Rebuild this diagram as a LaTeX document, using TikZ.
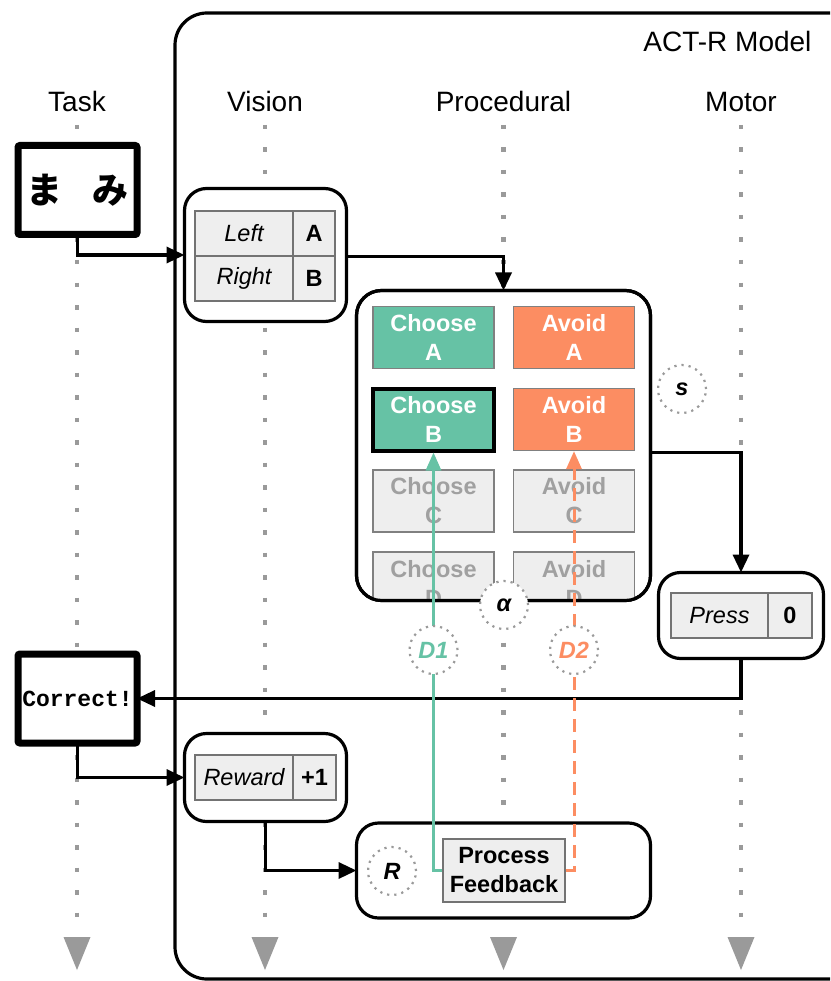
\documentclass[tikz,border=0pt]{standalone}
\usepackage{fontspec}
\setmainfont{Liberation Sans}
\setsansfont{Liberation Sans}
\setmonofont{Liberation Mono}
\newfontfamily\jpfont{Noto Sans CJK JP}
\usetikzlibrary{arrows.meta,calc}

\definecolor{setgreen}{HTML}{66C2A5}
\definecolor{setorange}{HTML}{FC8D62}
\definecolor{cellfill}{HTML}{EEEEEE}
\definecolor{lanegray}{HTML}{9A9A9A}
\definecolor{idletext}{HTML}{A0A0A0}

\newcommand\lanesize{\fontsize{28}{32}\selectfont}
\newcommand\cellsize{\fontsize{23.5}{29}\selectfont}

\tikzset{
  module/.style={draw, line width=3.2pt, fill=white, rounded corners=22pt,
    inner sep=0pt, outer sep=0pt},
  taskbox/.style={draw, line width=7pt, fill=white, rounded corners=2pt,
    inner sep=0pt, outer sep=0pt, minimum width=119pt, minimum height=89pt},
  slot/.style={draw=black!55, line width=1.3pt, fill=cellfill, inner sep=0pt,
    minimum height=45pt, font=\cellsize},
  prodcell/.style={draw=black!50, line width=1.3pt, inner sep=0pt,
    minimum width=121pt, minimum height=62pt, align=center,
    font=\cellsize\bfseries, text=white},
  choosecell/.style={prodcell, fill=setgreen},
  avoidcell/.style={prodcell, fill=setorange},
  idlecell/.style={prodcell, fill=cellfill, text=idletext},
  param/.style={circle, draw=lanegray, line width=2.2pt,
    dash pattern=on 2.2pt off 5pt, fill=white, minimum size=48pt,
    inner sep=0pt, font=\cellsize\bfseries\itshape},
  lane/.style={lanegray, line width=4.5pt, dash pattern=on 4.5pt off 18pt},
  lanetitle/.style={anchor=base, font=\lanesize},
  link/.style={line width=3.4pt, -{Triangle[length=18pt,width=16pt]}},
  signal/.style={line width=3pt, -{Triangle[length=18pt,width=15pt]}},
}

\begin{document}
\begin{tikzpicture}[x=1pt,y=-1pt]
\useasboundingbox (0,0) rectangle (830,981);
\clip (0,0) rectangle (830,981);

% ACT-R model frame
\node[draw, line width=3.2pt, rounded corners=32pt, inner sep=0pt, outer sep=0pt,
  minimum width=690pt, minimum height=966pt, anchor=north west] (model) at (175,13) {};
\node[anchor=base east, font=\lanesize] (modeltitle) at (815,52) {ACT-R Model};

% swim lanes
\foreach \name/\x/\label in {task/77/Task, vision/265/Vision, proc/503.5/Procedural, motor/741/Motor}{
  \node[lanetitle] (\name title) at (\x,112) {\label};
  \coordinate (\name top) at (\x,125);
  \coordinate (\name end) at (\x,934);
  \draw[lane] (\name top) -- (\name end);
  \fill[lanegray] ($(\name end)+(-13.5,3)$) -- ($(\name end)+(13.5,3)$) -- ($(\name end)+(0,36)$) -- cycle;
}

% task screens
\node[taskbox] (stim) at (77.5,190) {\fontsize{36}{40}\selectfont\jpfont\bfseries ま\hspace{30pt}み};
\node[taskbox] (correct) at (77.5,698.5) {\fontsize{23}{26}\selectfont\ttfamily\bfseries Correct!};

% vision: stimulus encoding
\node[module, minimum width=162pt, minimum height=133pt] (vis) at (265.5,255) {};
\node[slot, minimum width=98pt, font=\cellsize\itshape] (vleft) at (244,233.5) {Left};
\node[slot, minimum width=42pt, font=\cellsize\bfseries] (va) at (314,233.5) {A};
\node[slot, minimum width=98pt, font=\cellsize\itshape] (vright) at (244,278.5) {Right};
\node[slot, minimum width=42pt, font=\cellsize\bfseries] (vb) at (314,278.5) {B};

% vision: feedback encoding
\node[module, minimum width=162pt, minimum height=88pt] (rew) at (265.5,777.5) {};
\node[slot, minimum width=98pt, font=\cellsize\itshape] (rlabel) at (244,777.5) {Reward};
\node[slot, minimum width=43pt, font=\cellsize\bfseries] (rval) at (314.5,777.5) {+1};

% motor
\node[module, minimum width=165pt, minimum height=86pt] (mot) at (741,615.5) {};
\node[slot, minimum width=97pt, font=\cellsize\itshape] (mpress) at (719.5,615.5) {Press};
\node[slot, minimum width=44pt, font=\cellsize\bfseries] (mzero) at (790,615.5) {0};

% procedural: productions
\node[module, rounded corners=25pt, minimum width=294pt, minimum height=310pt] (pm) at (503.5,445.5) {};
\begin{scope}
  \clip[rounded corners=25pt] (pm.south west) rectangle (pm.north east);
  \node[choosecell] (cA) at (433.5,337.5) {Choose\\A};
  \node[avoidcell]  (aA) at (574,337.5) {Avoid\\A};
  \node[choosecell, draw=black, line width=4pt] (cB) at (433.5,419.5) {Choose\\B};
  \node[avoidcell]  (aB) at (574,419.5) {Avoid\\B};
  \node[idlecell]   (cC) at (433.5,501) {Choose\\C};
  \node[idlecell]   (aC) at (574,501) {Avoid\\C};
  \node[idlecell]   (cD) at (433.5,583) {Choose\\D};
  \node[idlecell]   (aD) at (574,583) {Avoid\\D};
\end{scope}
\draw[line width=3.2pt, rounded corners=25pt] (pm.south west) rectangle (pm.north east);

% procedural: feedback processing
\node[module, minimum width=294pt, minimum height=95pt] (fb) at (503.5,870.5) {};
\node[draw=black!55, line width=1.3pt, fill=cellfill, inner sep=0pt,
  minimum width=122pt, minimum height=63pt, align=center,
  font=\cellsize\bfseries] (pf) at (504,870.5) {Process\\Feedback};

% information flow
\draw[link] (stim.south) |- (vis.west);
\draw[link] (vis.east |- va.south) -| (pm.north);
\draw[link] (pm.east |- cB.south) -| (mot.north);
\draw[link] (mot.south) |- (correct.east);
\draw[link] (correct.south) |- (rew.west);
\draw[link] (rew.south) |- (fb.west);

% learning signals
\draw[signal, setgreen] (pf.west) -| (cB.south);
\draw[signal, setorange, dash pattern=on 13pt off 8pt] (pf.east) -| (aB.south);

% parameters
\node[param] (s) at (682,389) {s};
\node[param] (alpha) at (504,605) {α};
\node[param, text=setgreen] (d1) at (433.5,650) {D1};
\node[param, text=setorange] (d2) at (574,650) {D2};
\node[param] (r) at (392,871) {R};
\end{tikzpicture}
\end{document}
